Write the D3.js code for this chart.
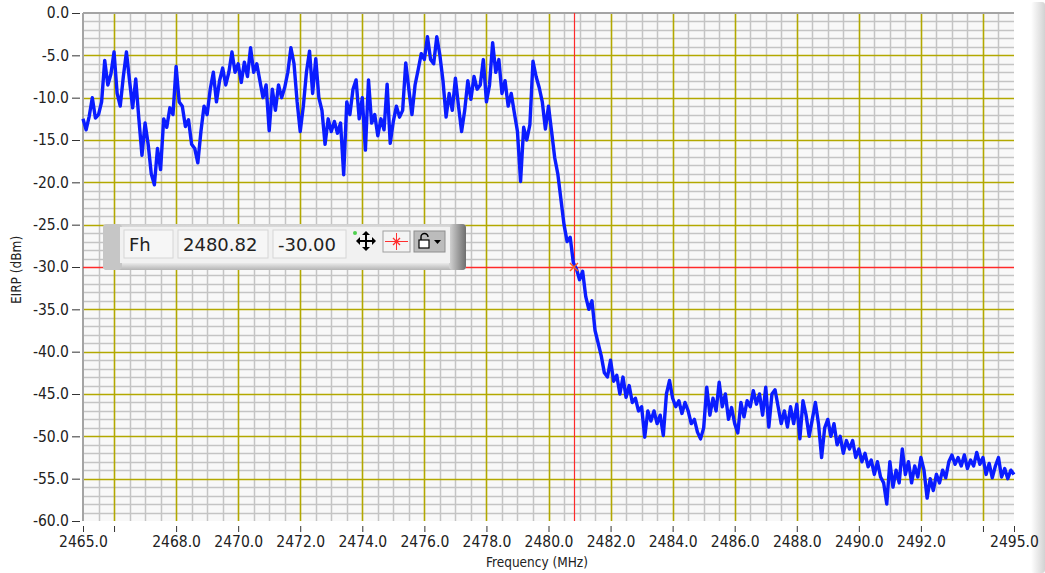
<!DOCTYPE html>
<html>
<head>
<meta charset="utf-8">
<script src="https://cdn.jsdelivr.net/npm/d3@7"></script>
<style>
  html, body { margin: 0; padding: 0; background: #fff; }
  svg { display: block; }
</style>
</head>
<body>
<svg id="chart" width="1045" height="573"></svg>
<script>
// Spectrum sweep: EIRP every 0.1 MHz from 2465.0 MHz
const freqStart = 2465.0;
const freqStep = 0.1;
const eirp = [
  -12.5, -13.8, -12.2, -10.0, -12.4, -12.0, -10.5, -5.6, -8.5, -7.2,     // 2465
  -4.6, -9.5, -11.0, -7.5, -4.6, -8.0, -11.2, -7.8, -12.5, -16.8,        // 2466
  -13.0, -15.5, -19.0, -20.3, -16.0, -18.5, -12.5, -13.5, -11.2, -12.0,  // 2467
  -6.3, -10.5, -11.0, -13.4, -12.6, -15.5, -16.0, -17.7, -14.0, -11.0,   // 2468
  -12.0, -9.0, -7.0, -10.5, -8.0, -6.5, -8.5, -7.0, -4.6, -7.0,          // 2469
  -6.0, -8.2, -5.8, -7.5, -4.1, -7.0, -6.0, -8.0, -10.0, -8.5,           // 2470
  -13.9, -9.0, -11.5, -8.5, -10.0, -8.8, -7.0, -4.1, -6.0, -10.5,        // 2471
  -14.0, -11.0, -7.0, -4.5, -9.5, -5.4, -10.0, -11.5, -15.5, -12.5,      // 2472
  -14.0, -12.8, -14.2, -13.0, -19.1, -10.5, -12.0, -9.0, -7.9, -12.5,    // 2473
  -10.0, -16.2, -7.9, -13.0, -12.0, -14.5, -12.5, -13.8, -8.4, -15.4,    // 2474
  -12.8, -11.0, -12.3, -11.5, -5.9, -9.0, -12.0, -8.5, -6.7, -4.8,       // 2475
  -5.5, -2.8, -5.5, -6.0, -2.8, -5.0, -8.0, -12.3, -9.5, -11.5,          // 2476
  -7.7, -11.0, -14.0, -11.5, -8.0, -10.2, -7.5, -9.0, -8.5, -5.5,        // 2477
  -10.5, -8.5, -3.5, -7.0, -5.5, -9.5, -8.0, -11.0, -9.5, -11.8,         // 2478
  -14.0, -19.9, -13.5, -15.0, -13.2, -5.7, -7.5, -8.8, -10.5, -13.7,     // 2479
  -11.0, -14.0, -17.1, -19.0, -22.0, -25.0, -27.0, -26.5, -29.5, -30.2,  // 2480
  -31.5, -30.5, -33.5, -35.0, -34.0, -37.5, -39.0, -40.5, -42.5, -43.0,  // 2481
  -41.0, -43.5, -42.8, -45.0, -43.0, -45.4, -44.0, -46.0, -45.5, -47.0,  // 2482
  -46.5, -50.1, -47.0, -48.2, -47.0, -48.5, -47.5, -49.9, -45.0, -43.4,  // 2483
  -45.5, -46.5, -45.8, -47.3, -46.0, -47.0, -48.5, -48.0, -49.5, -50.3,  // 2484
  -49.0, -44.2, -47.5, -45.5, -47.0, -43.6, -46.5, -45.0, -48.0, -46.6,  // 2485
  -48.5, -49.6, -46.0, -47.7, -45.8, -46.5, -44.6, -46.2, -45.0, -47.5,  // 2486
  -44.2, -48.9, -45.0, -44.5, -46.5, -48.5, -47.0, -48.9, -46.5, -48.5,  // 2487
  -46.2, -50.3, -45.8, -47.5, -50.0, -48.0, -46.0, -48.5, -52.5, -49.0,  // 2488
  -48.0, -50.0, -48.5, -51.0, -50.0, -52.0, -50.5, -51.5, -50.5, -52.5,  // 2489
  -51.5, -53.0, -52.0, -53.6, -52.8, -54.5, -53.0, -54.8, -55.5, -58.0,  // 2490
  -53.0, -56.0, -54.0, -55.5, -51.5, -54.5, -53.0, -55.5, -53.5, -54.8,  // 2491
  -52.5, -54.0, -57.3, -55.0, -56.4, -54.5, -55.5, -54.0, -54.9, -53.0,  // 2492
  -52.2, -53.3, -52.5, -53.5, -52.2, -53.8, -52.8, -53.5, -51.9, -53.3,  // 2493
  -52.5, -54.5, -53.2, -54.9, -53.5, -52.5, -54.8, -53.8, -55.0, -54.0,  // 2494
  -54.5                                                                   // 2495
];

const xTickValues = [2465, 2466, 2468, 2470, 2472, 2474, 2476, 2478, 2480, 2482, 2484, 2486, 2488, 2490, 2492, 2494, 2495];
const xTickLabels = ["2465.0", "", "2468.0", "2470.0", "2472.0", "2474.0", "2476.0", "2478.0",
                     "2480.0", "2482.0", "2484.0", "2486.0", "2488.0", "2490.0", "2492.0", "", "2495.0"];
const yTickValues = [0, -5, -10, -15, -20, -25, -30, -35, -40, -45, -50, -55, -60];

// cursor readout
const cursorName = "Fh";
const cursorFreq = 2480.82;
const cursorLevel = -30.00;

window.addEventListener('DOMContentLoaded', () => {
    const svg = d3.select('#chart');
    const plotLeft = 83, plotRight = 1014, plotTop = 13, plotBottom = 521;

    const x = d3.scaleLinear().domain([2465, 2495]).range([plotLeft, plotRight]);
    const y = d3.scaleLinear().domain([-60, 0]).range([plotBottom, plotTop]);

    const points = eirp.map((v, i) => [freqStart + i * freqStep, v]);

    const defs = svg.append('defs');
    const edge = defs.append('linearGradient').attr('id', 'edgeGrad')
        .attr('x1', '0%').attr('x2', '100%').attr('y1', '0%').attr('y2', '0%');
    edge.append('stop').attr('offset', '0%').attr('stop-color', '#ffffff');
    edge.append('stop').attr('offset', '100%').attr('stop-color', '#d2d2d2');

    const frameGrad = defs.append('linearGradient').attr('id', 'frameGrad')
        .attr('x1', '0%').attr('x2', '0%').attr('y1', '0%').attr('y2', '100%');
    frameGrad.append('stop').attr('offset', '0%').attr('stop-color', '#cfcfcf');
    frameGrad.append('stop').attr('offset', '12%').attr('stop-color', '#e4e4e4');
    frameGrad.append('stop').attr('offset', '85%').attr('stop-color', '#e9e9e9');
    frameGrad.append('stop').attr('offset', '100%').attr('stop-color', '#b4b4b4');

    const capGrad = defs.append('linearGradient').attr('id', 'capGrad')
        .attr('x1', '0%').attr('x2', '100%').attr('y1', '0%').attr('y2', '0%');
    capGrad.append('stop').attr('offset', '0%').attr('stop-color', '#d6d6d6');
    capGrad.append('stop').attr('offset', '100%').attr('stop-color', '#6e6e6e');

    // right-hand frame strip
    svg.append('rect').attr('x', 1031).attr('y', 2).attr('width', 14).attr('height', 571)
        .attr('rx', 3).attr('fill', 'url(#edgeGrad)');

    // plot background
    svg.append('rect').attr('x', plotLeft).attr('y', plotTop)
        .attr('width', plotRight - plotLeft).attr('height', plotBottom - plotTop)
        .attr('fill', '#f8f8f8');

    // minor grid
    const grid = svg.append('g');
    const px = v => Math.round(v) + 0.5;
    grid.selectAll('.vminor')
        .data(d3.range(2465.5, 2495, 0.5).filter(f => f % 2 !== 0))
        .join('line')
        .attr('x1', d => px(x(d))).attr('x2', d => px(x(d)))
        .attr('y1', plotTop).attr('y2', plotBottom)
        .attr('stroke', '#c4c4c4').attr('stroke-width', 1.5);
    grid.selectAll('.hminor')
        .data(d3.range(-59, 0, 1).filter(v => v % 5 !== 0))
        .join('line')
        .attr('x1', plotLeft).attr('x2', plotRight)
        .attr('y1', d => px(y(d))).attr('y2', d => px(y(d)))
        .attr('stroke', '#c4c4c4').attr('stroke-width', 1.5);

    // major grid (the -30 dB line sits under the cursor line)
    grid.selectAll('.vmajor')
        .data(d3.range(2466, 2495, 2))
        .join('line')
        .attr('x1', d => px(x(d))).attr('x2', d => px(x(d)))
        .attr('y1', plotTop).attr('y2', plotBottom)
        .attr('stroke', '#b2a800').attr('stroke-width', 1.6);
    grid.selectAll('.hmajor')
        .data(d3.range(-55, 0, 5).filter(v => v !== cursorLevel))
        .join('line')
        .attr('x1', plotLeft).attr('x2', plotRight)
        .attr('y1', d => px(y(d))).attr('y2', d => px(y(d)))
        .attr('stroke', '#b2a800').attr('stroke-width', 1.6);

    // plot border (top + left)
    svg.append('line').attr('x1', plotLeft).attr('x2', plotRight).attr('y1', plotTop).attr('y2', plotTop)
        .attr('stroke', '#a4a4a4').attr('stroke-width', 2);
    svg.append('line').attr('x1', plotLeft).attr('x2', plotLeft).attr('y1', plotTop).attr('y2', plotBottom)
        .attr('stroke', '#a4a4a4').attr('stroke-width', 2);

    // cursor lines
    const cx = x(cursorFreq), cy = y(cursorLevel);
    svg.append('line').attr('x1', plotLeft).attr('x2', plotRight).attr('y1', px(cy)).attr('y2', px(cy))
        .attr('stroke', '#ff2a2a').attr('stroke-width', 1.4);
    svg.append('line').attr('x1', px(cx)).attr('x2', px(cx)).attr('y1', plotTop).attr('y2', plotBottom)
        .attr('stroke', '#ff2a2a').attr('stroke-width', 1.2);

    // trace
    const line = d3.line().x(d => x(d[0])).y(d => y(d[1]));
    svg.append('path')
        .datum(points)
        .attr('d', line)
        .attr('fill', 'none')
        .attr('stroke', '#0a1cff')
        .attr('stroke-width', 3.4)
        .attr('stroke-linejoin', 'round');

    // cursor marker
    svg.append('path')
        .attr('d', `M${cx - 4},${cy - 4}L${cx + 4},${cy + 4}M${cx - 4},${cy + 4}L${cx + 4},${cy - 4}`)
        .attr('stroke', '#ff5a1e').attr('stroke-width', 1.5);

    // axes
    const fontFamily = '"DejaVu Sans Condensed", "DejaVu Sans", sans-serif';

    const yAxis = d3.axisLeft(y)
        .tickValues(yTickValues)
        .tickFormat(d => d.toFixed(1))
        .tickSize(8)
        .tickPadding(3);
    const gy = svg.append('g').attr('transform', 'translate(80,0)').call(yAxis);
    gy.select('.domain').remove();
    gy.selectAll('line').attr('stroke', '#333');
    gy.selectAll('text').attr('font-family', fontFamily).attr('font-size', 15.5).attr('fill', '#222');

    const xAxis = d3.axisBottom(x)
        .tickValues(xTickValues)
        .tickFormat((d, i) => xTickLabels[i])
        .tickSize(6)
        .tickPadding(4);
    const gx = svg.append('g').attr('transform', 'translate(0,526)').call(xAxis);
    gx.select('.domain').remove();
    gx.selectAll('line').attr('stroke', '#333');
    gx.selectAll('text').attr('font-family', fontFamily).attr('font-size', 15.5).attr('fill', '#222');

    // axis titles
    svg.append('text')
        .attr('x', 537).attr('y', 567)
        .attr('text-anchor', 'middle')
        .attr('font-family', fontFamily).attr('font-size', 13.5).attr('fill', '#222')
        .text('Frequency (MHz)');
    svg.append('text')
        .attr('transform', 'translate(21,270) rotate(-90)')
        .attr('text-anchor', 'middle')
        .attr('font-family', fontFamily).attr('font-size', 13.5).attr('fill', '#222')
        .text('EIRP (dBm)');

    // cursor legend panel
    const box = svg.append('g');
    box.append('rect').attr('x', 103).attr('y', 224).attr('width', 363).attr('height', 46)
        .attr('rx', 4).attr('fill', 'url(#frameGrad)');
    box.append('rect').attr('x', 103).attr('y', 224).attr('width', 19).attr('height', 46)
        .attr('rx', 4).attr('fill', '#c6c6c6');
    box.append('rect').attr('x', 449).attr('y', 224).attr('width', 17).attr('height', 46)
        .attr('rx', 4).attr('fill', 'url(#capGrad)');
    box.append('rect').attr('x', 120).attr('y', 227).attr('width', 330).attr('height', 36)
        .attr('fill', '#f1f1f1');

    const fieldFont = '"DejaVu Sans", sans-serif';
    const fields = [
        { x: 124, w: 49, label: cursorName },
        { x: 178, w: 90, label: cursorFreq.toFixed(2) },
        { x: 273, w: 73, label: cursorLevel.toFixed(2) }
    ];
    fields.forEach(f => {
        box.append('rect').attr('x', f.x).attr('y', 230).attr('width', f.w).attr('height', 28)
            .attr('fill', '#f6f6f6').attr('stroke', '#d6d6d6').attr('stroke-width', 1);
        box.append('text').attr('x', f.x + 5).attr('y', 251)
            .attr('font-family', fieldFont).attr('font-size', 18).attr('fill', '#222')
            .text(f.label);
    });

    // move tool icon
    const mx = 366, my = 241;
    box.append('path')
        .attr('d', `M${mx - 8},${my}H${mx + 8}M${mx},${my - 8}V${my + 8}`)
        .attr('stroke', '#000').attr('stroke-width', 2);
    box.append('path')
        .attr('d', `M${mx - 10},${my}l4,-4v8z M${mx + 10},${my}l-4,-4v8z M${mx},${my - 10}l-4,4h8z M${mx},${my + 10}l-4,-4h8z`)
        .attr('fill', '#000');
    box.append('circle').attr('cx', 355).attr('cy', 233).attr('r', 2).attr('fill', '#4fd04f');

    // cursor style icon
    box.append('rect').attr('x', 383).attr('y', 231).attr('width', 27).attr('height', 21)
        .attr('fill', '#f4f4f4').attr('stroke', '#a0a0a0');
    box.append('path').attr('d', 'M385,241.5H408M396.5,233V250')
        .attr('stroke', '#ff3030').attr('stroke-width', 1);
    box.append('path').attr('d', 'M393,238L400,245M393,245L400,238')
        .attr('stroke', '#ff3030').attr('stroke-width', 1.3);

    // lock icon
    box.append('rect').attr('x', 414).attr('y', 231).attr('width', 31).attr('height', 21)
        .attr('fill', '#bcbcbc').attr('stroke', '#8e8e8e');
    box.append('path').attr('d', 'M421,240v-3a3.5,3.5 0 0 1 7,0')
        .attr('fill', 'none').attr('stroke', '#000').attr('stroke-width', 1.4);
    box.append('rect').attr('x', 419).attr('y', 240).attr('width', 10).attr('height', 8)
        .attr('fill', '#fff').attr('stroke', '#000').attr('stroke-width', 1.2);
    box.append('path').attr('d', 'M434,240h7l-3.5,4z').attr('fill', '#000');
});
</script>
</body>
</html>
